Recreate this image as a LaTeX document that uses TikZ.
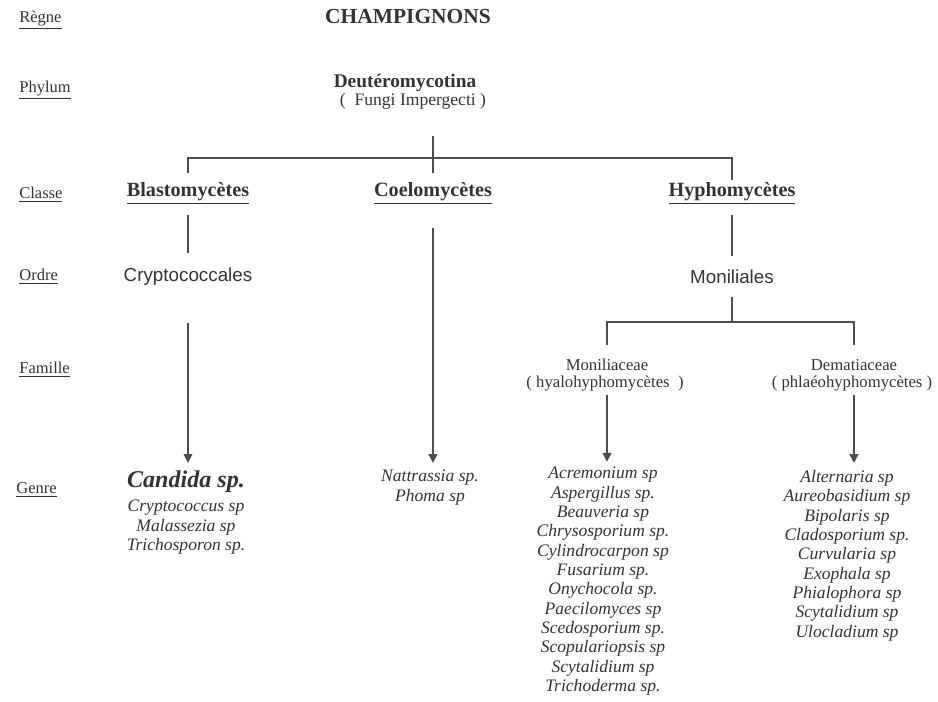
\documentclass[tikz,border=0pt]{standalone}
\usepackage{fontspec}
\setmainfont{Liberation Serif}
\setsansfont{Liberation Sans}
\usepackage{tikz}
\usetikzlibrary{arrows.meta}
\definecolor{txt}{RGB}{48,52,55}
\definecolor{ln}{RGB}{75,78,80}

\begin{document}
\begin{tikzpicture}[x=0.02cm, y=-0.02cm,
    every node/.style={inner sep=0pt, text=txt},
    lab/.style={anchor=west, font=\fontsize{9.4}{11}\selectfont},
    cls/.style={font=\fontsize{11.5}{13}\selectfont\bfseries},
    ord/.style={font=\fontsize{10.7}{12}\sffamily},
    fam/.style={font=\fontsize{9.5}{11}\selectfont},
    gen/.style={anchor=north, align=center, font=\fontsize{10}{11}\selectfont\itshape},
    br/.style={draw=ln, line width=0.8pt},
    arr/.style={br, -{Triangle[length=5pt, width=5pt]}}]
    
    \useasboundingbox (0,0) rectangle (938,701);
    
    % ranks
    \node[lab] (regne)   at (19,20)  {\underline{Règne}};
    \node[lab] (phylum)  at (19,90)  {\underline{Phylum}};
    \node[lab] (classe)  at (19,195) {\underline{Classe}};
    \node[lab] (ordre)   at (19,277) {\underline{Ordre}};
    \node[lab] (famille) at (19,370) {\underline{Famille}};
    \node[lab] (genre)   at (16,490) {\underline{Genre}};
    
    % kingdom and phylum
    \node[font=\fontsize{12.2}{14}\selectfont\bfseries] (champ) at (408,17) {CHAMPIGNONS};
    \node[font=\fontsize{11}{13}\selectfont\bfseries] (deut) at (405,83) {Deutéromycotina};
    \node[font=\fontsize{10}{12}\selectfont] (fungi) at (413,101) {(\ \ Fungi Impergecti )};
    
    % classes
    \node[cls] (blasto) at (188,193) {\underline{Blastomycètes}};
    \node[cls] (coelo)  at (433,193) {\underline{Coelomycètes}};
    \node[cls] (hypho)  at (732,193) {\underline{Hyphomycètes}};
    
    % orders
    \node[ord] (crypto) at (188,277) {Cryptococcales};
    \node[ord] (monil)  at (732,277) {Moniliales};
    
    % families
    \node[fam] (monilia) at (607,365) {Moniliaceae};
    \node[fam] (hyalo)   at (605,383) {( hyalohyphomycètes\ \ )};
    \node[fam] (demat)   at (854,365) {Dematiaceae};
    \node[fam] (phlaeo)  at (852,383) {( phlaéohyphomycètes )};
    
    % genera
    \node[font=\fontsize{13.7}{15}\selectfont\bfseries\itshape] (candida) at (186,482) {Candida sp.};
    \node[gen] (cryptolist) at (186,500) {Cryptococcus sp\\ Malassezia sp\\ Trichosporon sp.};
    \node[gen] (coelolist) at (430,470) {Nattrassia sp.\\ Phoma sp};
    \node[gen] (monilist) at (603,467) {Acremonium sp\\ Aspergillus sp.\\ Beauveria sp\\ Chrysosporium sp.\\ Cylindrocarpon sp\\ Fusarium sp.\\ Onychocola sp.\\ Paecilomyces sp\\ Scedosporium sp.\\ Scopulariopsis sp\\ Scytalidium sp\\ Trichoderma sp.};
    \node[gen] (dematlist) at (847,470) {Alternaria sp\\ Aureobasidium sp\\ Bipolaris sp\\ Cladosporium sp.\\ Curvularia sp\\ Exophala sp\\ Phialophora sp\\ Scytalidium sp\\ Ulocladium sp};
    
    % tree
    \coordinate (top) at (433,158);
    \coordinate (fork) at (732,322);
    \draw[br, shorten <=15pt, shorten >=5pt] (coelo.north |- fungi.south) -- (coelo.north);
    \draw[br, shorten <=5pt, shorten >=1pt] (blasto.north) -- (blasto.north |- top) -- (hypho.north |- top) -- (hypho.north);
    \draw[br, shorten <=6pt, shorten >=8.5pt] (blasto.south) -- (crypto.north);
    \draw[br, shorten <=6pt, shorten >=8pt] (hypho.south) -- (monil.north);
    \draw[br, shorten <=7.4pt] (monil.south) -- (fork);
    \draw[br, shorten <=8pt, shorten >=8pt] (monilia.north) -- (monilia.north |- fork) -- (demat.north |- fork) -- (demat.north);
    
    % arrows to genera
    \draw[arr, shorten <=21pt, shorten >=4.5pt] (crypto.south) -- (crypto.south |- candida.north);
    \draw[arr, shorten <=13.6pt, shorten >=4pt] (coelo.south) -- (coelo.south |- coelolist.north);
    \draw[arr, shorten <=2.5pt, shorten >=3pt] (monilia.north |- hyalo.south) -- (monilia.north |- monilist.north);
    \draw[arr, shorten <=2.5pt, shorten >=4pt] (demat.north |- phlaeo.south) -- (demat.north |- dematlist.north);
    
\end{tikzpicture}
\end{document}
